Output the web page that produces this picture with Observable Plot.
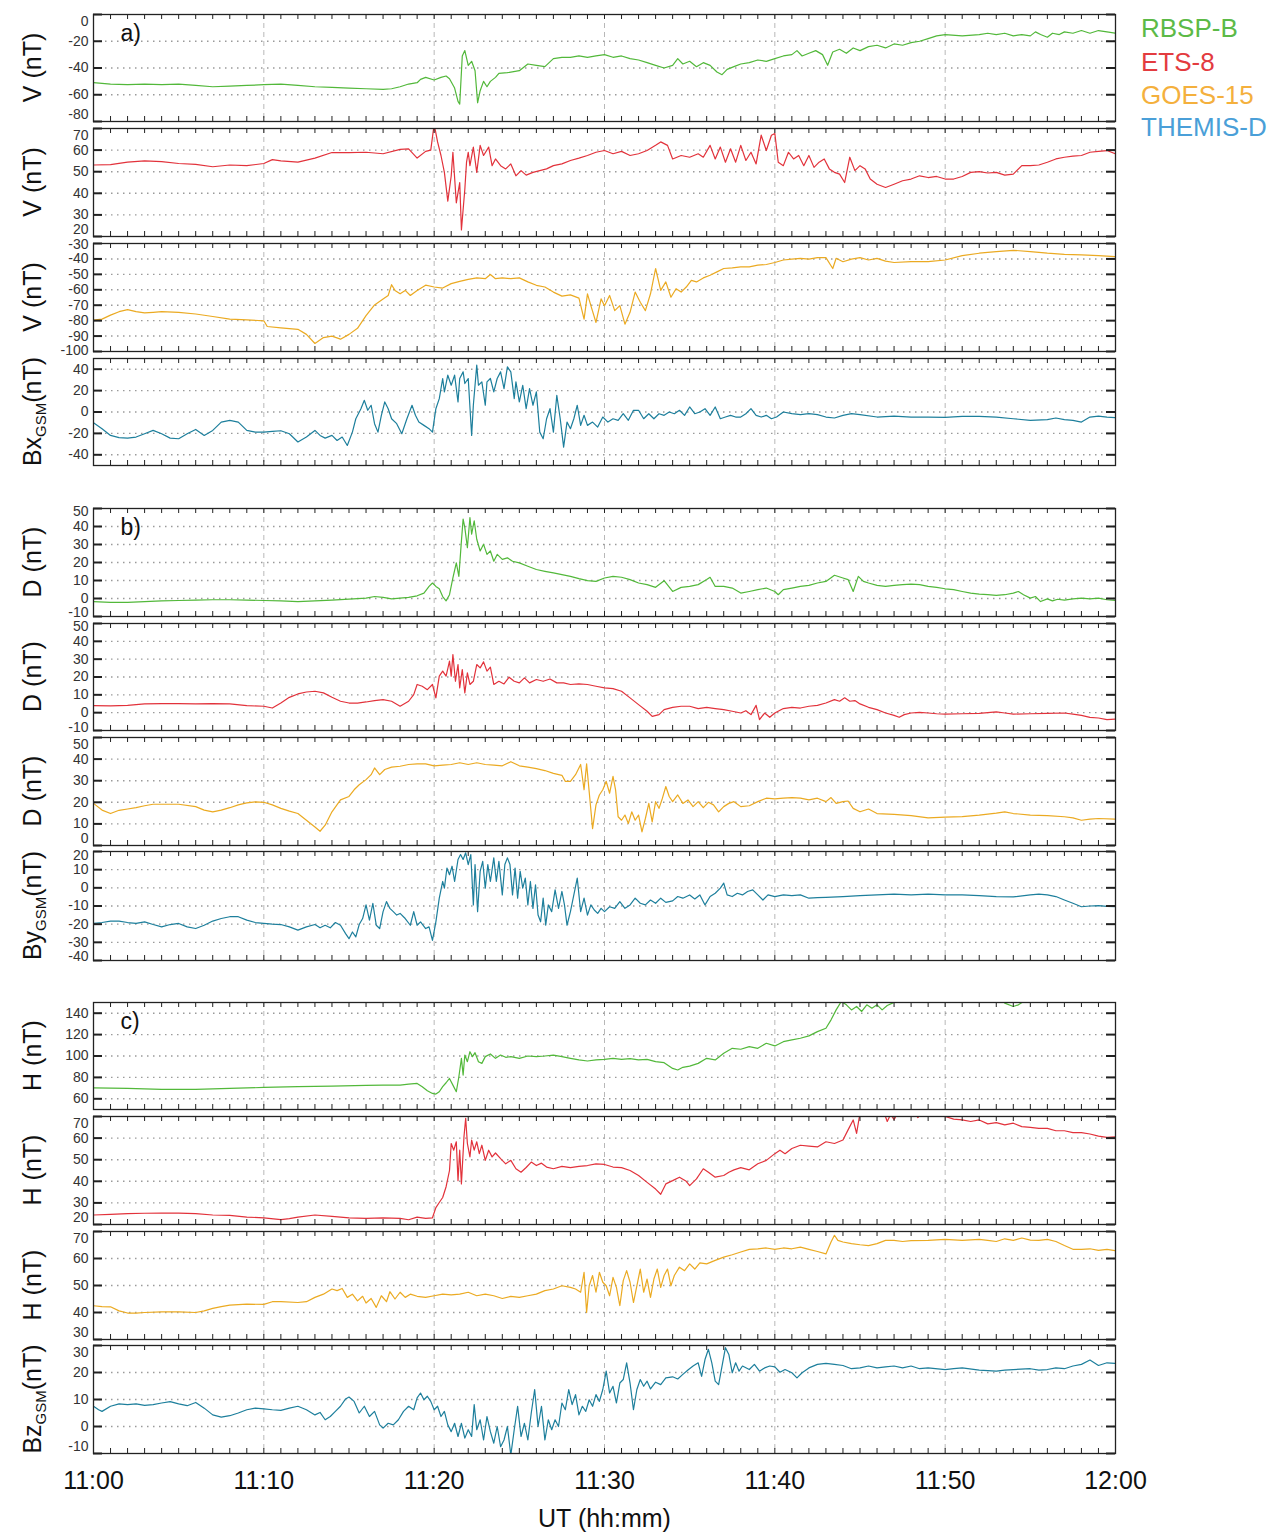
<!DOCTYPE html>
<html><head><meta charset="utf-8">
<script src="https://cdn.jsdelivr.net/npm/d3@7"></script>
<script src="https://cdn.jsdelivr.net/npm/@observablehq/plot@0.6"></script>
<style>
body{margin:0;background:#fff;}
#wrap{position:relative;width:1283px;height:1532px;font-family:"Liberation Sans",Arial,Helvetica,sans-serif;overflow:hidden;}
.legend{position:absolute;left:1141px;font-size:26px;line-height:26px;white-space:nowrap;}
</style></head><body><div id="wrap"></div>
<script>
// ---------- data: [minute after 11:00 UT, value in nT] ----------
const rbspV = [[0,-51],[1,-52],[2,-52.5],[3,-52],[4,-52.5],[5,-52],[6,-53],[7,-54],[8,-53.5],[9,-53],[10,-52.5],[11,-52],[12,-53],[13,-54],[14,-54.5],[15,-55],[16,-55.5],[17,-56],[17.5,-55.5],[18,-54],[18.5,-52],[19,-51],[19.2,-48.5],[19.5,-47],[20,-49],[20.4,-47],[20.7,-46],[20.9,-48],[21.2,-55],[21.4,-65],[21.5,-67],[21.65,-31],[21.8,-27],[22,-38],[22.2,-35],[22.4,-42],[22.55,-66],[22.7,-57],[22.9,-50],[23.1,-54],[23.3,-50],[23.6,-47],[23.8,-44],[24.3,-43.5],[25,-42],[25.5,-37],[26,-38],[26.5,-39],[27,-33],[27.5,-32],[28,-32],[28.5,-31],[29,-32],[29.5,-31],[30,-30],[30.5,-32],[31,-31],[31.5,-33],[32,-34],[32.5,-36],[33,-38],[33.5,-40],[34,-38],[34.3,-33],[34.6,-37],[35,-35],[35.4,-39],[35.8,-36],[36.2,-38],[36.6,-43],[36.9,-45],[37.2,-41],[37.6,-39],[38,-37],[38.5,-36],[39,-34],[39.5,-35],[40,-33],[40.5,-31],[41,-30],[41.3,-27],[41.6,-31],[42,-29],[42.4,-27],[42.8,-30],[43.1,-38],[43.4,-28],[43.8,-26],[44.2,-29],[44.6,-25],[45,-27],[45.5,-24],[46,-23],[46.5,-25],[47,-22],[47.5,-23],[48,-21],[48.5,-20],[49,-18],[49.5,-16],[50,-15],[51,-16],[52,-15],[52.5,-14],[53,-15],[53.5,-14],[54,-16],[54.5,-15],[55,-16],[55.3,-13],[55.6,-15],[56,-17],[56.3,-14],[56.7,-15],[57,-13],[57.5,-14],[58,-12],[58.5,-14],[59,-12],[59.5,-13],[60,-14]];
const etsV = [[0,53.1],[1,53.3],[2,54.4],[3,55],[4,54.7],[5,53.8],[6,53.4],[7,52.3],[8,53.1],[9,52.8],[10,53.8],[10.5,55.6],[11,55],[12,54.4],[13,56.3],[14,58.9],[15,58.8],[16,59],[17,58.3],[18,60.3],[18.5,60.6],[19,56.3],[19.5,59.4],[19.8,60],[20,72],[20.2,63.8],[20.4,57.5],[20.6,49.7],[20.8,36.4],[21,48],[21.1,59],[21.3,35.6],[21.5,45],[21.6,23],[21.8,41.9],[21.9,54.4],[22,59],[22.1,52.8],[22.3,61.4],[22.5,49.7],[22.7,62.2],[22.9,57.5],[23.2,61.4],[23.4,52.8],[23.6,55.9],[23.9,52.8],[24.2,51.3],[24.5,53.6],[24.8,48.1],[25.1,50.5],[25.4,48.4],[25.8,49.7],[26.2,50.5],[26.6,51.3],[27,52.8],[27.5,53.6],[28,55.2],[28.5,56.3],[29,57.5],[29.5,59],[30,59.8],[30.5,58.3],[31,59.4],[31.5,57.5],[32,58.3],[32.5,59.8],[33,62.2],[33.3,63.8],[33.7,62.2],[34,55.9],[34.5,57.5],[35,56.7],[35.5,58.3],[35.8,56.7],[36.2,62.2],[36.5,55.9],[36.8,61.4],[37.1,54.4],[37.4,60.6],[37.7,54.4],[38,62.2],[38.3,55.2],[38.6,59],[38.9,53.6],[39.2,66.9],[39.5,59.8],[39.8,66.9],[40,67.7],[40.2,54.4],[40.5,52.8],[40.8,59],[41.1,55.9],[41.4,57.5],[41.7,52.8],[42,57.5],[42.3,52],[42.6,54.4],[42.9,55.9],[43.2,51.3],[43.5,49.7],[43.8,48.9],[44.1,45],[44.4,56.7],[44.7,50.5],[45,52.8],[45.3,51.3],[45.6,46.6],[46,44.2],[46.5,42.7],[47,44.2],[47.5,45.8],[48,46.6],[48.5,48.1],[49,47.3],[49.5,47.8],[50,46.6],[50.5,46.6],[51,47.8],[51.5,49.7],[52,50],[52.5,49.4],[53,49.7],[53.5,48.4],[54,48.9],[54.5,52.8],[55,52.8],[55.5,53.1],[56,54.4],[56.5,55.9],[57,56.7],[57.5,57.2],[58,57.5],[58.5,59],[59,59.4],[59.5,59.8],[60,58.3]];
const goesV = [[0,-79.7],[0.5,-79],[1,-76.4],[1.5,-74.2],[2,-72.9],[2.5,-74.2],[3,-75],[3.5,-74.6],[4,-74.2],[5,-74.6],[6,-75.7],[7,-77.3],[8,-79],[9,-79.5],[10,-80.1],[10.2,-83.8],[11,-84.7],[12,-85.6],[12.5,-88.9],[13,-94.8],[13.5,-91],[14,-90],[14.5,-92],[15,-88.9],[15.5,-85],[16,-76.8],[16.5,-69.8],[17,-65.9],[17.3,-63.7],[17.5,-56.7],[17.7,-60.4],[18,-62.6],[18.3,-60.4],[18.6,-63.7],[19,-60.4],[19.5,-57],[20,-58.2],[20.5,-58.9],[21,-56],[21.5,-54.5],[22,-53.2],[22.5,-52.3],[23,-52.8],[23.3,-50.1],[23.6,-52.8],[24,-52.3],[24.5,-52.8],[25,-52.3],[25.5,-54.9],[26,-57.1],[26.5,-58.2],[27,-61.5],[27.5,-64.1],[28,-63.3],[28.5,-65.4],[28.8,-79],[29,-62.6],[29.2,-70.3],[29.5,-81.2],[29.8,-65.9],[30,-70.3],[30.3,-63.7],[30.6,-73.5],[30.9,-70.3],[31.2,-82.3],[31.5,-74.6],[31.8,-61.5],[32.1,-68.1],[32.4,-73.5],[32.7,-62.6],[33,-46.2],[33.3,-60.4],[33.6,-54.9],[33.9,-64.8],[34.2,-59.3],[34.5,-61.5],[34.8,-58.2],[35.1,-53.9],[35.4,-54.9],[35.8,-52.3],[36.2,-50.6],[36.6,-48.4],[37,-46.2],[37.5,-45.8],[38,-45.1],[38.5,-45.1],[39,-44],[39.5,-43.6],[40,-42.3],[40.5,-40.7],[41,-40.1],[41.5,-39.6],[42,-40.1],[42.5,-39.2],[43,-39.2],[43.4,-46.2],[43.6,-39.6],[44,-41.8],[44.5,-40.1],[45,-39.2],[45.5,-40.7],[46,-39.6],[46.5,-41.4],[47,-42.3],[48,-41.8],[49,-41.8],[50,-40.7],[51,-37.9],[52,-36.3],[53,-35.3],[54,-34.4],[55,-35.3],[56,-36.3],[57,-37],[58,-37.4],[59,-37.9],[60,-38.5]];
const themisBx = [[0,-10],[0.5,-15.6],[1,-21.9],[1.5,-24],[2,-24.4],[2.5,-23.4],[3,-20.3],[3.5,-17.2],[4,-20.3],[4.5,-24.4],[5,-25],[5.5,-20.3],[6,-16.3],[6.5,-21.9],[7,-17.2],[7.5,-9.4],[8,-7.8],[8.5,-9.4],[9,-17.2],[9.5,-18.8],[10,-18.8],[10.5,-18.1],[11,-17.5],[11.5,-20.3],[12,-28],[12.5,-23.4],[13,-17.2],[13.3,-21.9],[13.6,-24.4],[14,-21.9],[14.3,-26.6],[14.6,-23.4],[14.9,-31.3],[15.2,-18.8],[15.4,-6.3],[15.7,3.1],[15.9,10.9],[16.1,1.6],[16.3,6.3],[16.5,-10.9],[16.7,-18.8],[16.9,-3.1],[17.1,9.4],[17.3,3.1],[17.5,-6.3],[17.8,-10.9],[18.1,-20.3],[18.4,-6.3],[18.7,6.3],[18.9,-3.1],[19.1,-9.4],[19.4,-12.5],[19.7,-15.6],[19.9,-18.8],[20.1,3.1],[20.3,12.5],[20.5,31.3],[20.6,18.8],[20.8,34.4],[21,25],[21.2,34.4],[21.4,9.4],[21.5,31.3],[21.7,37.5],[21.8,26.6],[22,31.3],[22.2,-21.9],[22.3,6.3],[22.5,43.8],[22.6,25],[22.8,28.1],[23,6.3],[23.1,28.1],[23.3,31.3],[23.5,18.8],[23.7,31.3],[23.9,37.5],[24.1,21.9],[24.3,42.2],[24.5,37.5],[24.7,12.5],[24.8,28.1],[25,9.4],[25.2,25],[25.4,3.1],[25.6,21.9],[25.8,6.3],[26,18.8],[26.2,-18.8],[26.4,-25],[26.6,-6.3],[26.8,3.1],[27,-18.8],[27.2,15.6],[27.4,-6.3],[27.6,-32.8],[27.8,-9.4],[28,-15.6],[28.2,-6.3],[28.4,6.3],[28.6,-12.5],[28.8,-3.1],[29,-12.5],[29.3,-9.4],[29.6,-14.1],[29.9,-4.7],[30.2,-9.4],[30.5,-6.3],[30.8,-7.8],[31.1,-1.6],[31.4,-7.8],[31.7,1.6],[32,1.6],[32.3,-6.3],[32.6,-1.6],[32.9,-6.3],[33.2,-1.6],[33.5,-3.1],[33.8,0],[34.1,-1.6],[34.4,1.6],[34.7,-3.1],[35,4.7],[35.3,-1.6],[35.6,0],[35.9,3.1],[36.2,-3.1],[36.5,4.7],[36.8,-6.3],[37.1,-4.7],[37.4,-3.1],[37.7,-4.7],[38,-4.7],[38.3,-1.6],[38.6,3.1],[38.9,-3.1],[39.2,-4.7],[39.5,-3.1],[39.8,-6.3],[40.1,-4.7],[40.5,0],[41,-1.6],[41.5,-2.5],[42,-1.6],[42.5,-2.5],[43,-4.7],[43.5,-5.6],[44,-3.1],[44.5,-1.6],[45,-2.5],[46,-4.7],[47,-3.8],[48,-4.7],[49,-4.7],[50,-5],[51,-4.1],[52,-4.1],[53,-4.7],[54,-6.3],[55,-7.8],[56,-7.2],[56.5,-5.6],[57,-7.2],[57.5,-7.8],[58,-9.4],[58.5,-4.7],[59,-3.8],[59.5,-4.7],[60,-5.3]];
const rbspD = [[0,-1.7],[1,-2.2],[2,-2.1],[3,-1.7],[4,-1.3],[5,-1.1],[6,-0.9],[7,-0.7],[8,-0.7],[9,-0.9],[10,-1.1],[11,-1.3],[12,-1.7],[13,-1.3],[14,-0.9],[15,-0.4],[16,0.2],[16.5,1.1],[17,0.6],[17.5,-0.2],[18,0.2],[18.5,0.6],[19,1.5],[19.4,3],[19.7,6.7],[19.9,8.6],[20.1,6.7],[20.3,5.4],[20.5,1.1],[20.7,-1.3],[20.9,2.1],[21.1,11.4],[21.3,19.8],[21.45,12.3],[21.6,32],[21.7,44.1],[21.8,39.4],[21.95,28.2],[22.1,45],[22.2,35.7],[22.35,43.2],[22.5,32.9],[22.7,26.4],[22.9,30.1],[23.1,24.5],[23.3,26.4],[23.5,20.7],[23.7,24.5],[24,21.7],[24.3,22.6],[24.6,20.7],[25,19.8],[25.5,17.9],[26,16.1],[26.5,15.1],[27,14.2],[27.5,13.3],[28,12.3],[28.5,11],[29,9.9],[29.5,9.5],[30,11.4],[30.5,12.3],[31,11.8],[31.5,10.5],[32,8.6],[32.5,7.7],[33,6.2],[33.5,9.9],[34,3.9],[34.5,6.2],[35,6.7],[35.5,7.7],[36,10.5],[36.2,11.8],[36.5,6.7],[37,6.7],[37.5,5.8],[38,3],[38.5,3.9],[39,4.9],[39.5,5.8],[40,3.9],[40.2,2.1],[40.5,4.9],[41,5.8],[41.5,6.7],[42,7.3],[42.5,8.6],[43,9.5],[43.5,12.9],[44,11.4],[44.3,10.5],[44.6,3.9],[44.9,12.3],[45.2,9.5],[45.5,8.6],[46,7.3],[46.5,6.7],[47,7.3],[47.5,7.7],[48,8],[48.5,7.7],[49,6.7],[49.5,6.2],[50,5.4],[50.5,4.9],[51,3.9],[51.5,3],[52,2.4],[52.5,2.1],[53,1.7],[53.5,2.1],[54,3],[54.3,3.9],[54.6,2.1],[55,0.2],[55.3,1.1],[55.6,-1.7],[56,-0.2],[56.3,-1.3],[56.6,-0.4],[57,-0.9],[57.5,-0.2],[58,0.2],[58.5,-0.2],[59,0.2],[59.5,-0.7],[60,-1.1]];
const etsD = [[0,3.9],[1,3.8],[2,4.1],[3,4.9],[4,5.1],[5,5.1],[6,4.9],[7,5.1],[8,4.9],[9,3.9],[10,3.6],[10.5,2.6],[11,5.4],[11.5,8.6],[12,10.5],[12.5,11.6],[13,12],[13.5,11.1],[14,8.6],[14.5,6.4],[15,5.4],[15.5,5.4],[16,6],[16.5,6.8],[17,7.3],[17.5,6.4],[18,3.6],[18.5,6.4],[18.8,10.1],[19,15.8],[19.3,14.8],[19.6,12.9],[19.9,15.8],[20.1,8.3],[20.3,20.5],[20.5,23.3],[20.7,20.5],[20.9,28.9],[21,20.5],[21.1,32.6],[21.25,17.6],[21.4,27],[21.5,13.9],[21.65,24.2],[21.8,11.1],[21.95,22.3],[22.1,15.8],[22.3,17.6],[22.5,27],[22.7,25.1],[22.9,28.5],[23.1,23.3],[23.3,25.5],[23.5,15.8],[23.8,17.6],[24.1,16.1],[24.4,19.9],[24.7,17.6],[25,16.7],[25.3,19.5],[25.6,16.7],[26,18.6],[26.4,17.6],[26.8,18.9],[27.2,16.7],[27.6,16.7],[28,15.8],[28.5,16.1],[29,15.8],[29.5,14.8],[30,13.9],[30.5,13.5],[31,12],[31.5,8.3],[32,4.5],[32.5,0.8],[32.8,-2.1],[33.2,-1.1],[33.5,1.7],[34,3],[34.5,3.6],[35,3.6],[35.5,2.3],[36,3],[36.5,2.3],[37,1.7],[37.5,0.8],[38,-0.2],[38.3,1.1],[38.6,-1.1],[38.9,4.1],[39.1,-3.9],[39.4,-0.2],[39.7,-2.6],[40,-0.2],[40.5,2.3],[41,3],[41.5,2.6],[42,3.6],[42.5,4.1],[43,5.4],[43.5,7.3],[43.8,6.4],[44.1,8.3],[44.4,6.4],[44.7,6.8],[45,4.9],[45.5,3],[46,1.7],[46.5,-0.2],[47,-1.5],[47.3,-2.6],[47.6,-1.1],[48,-0.2],[48.5,0.2],[49,-0.2],[49.5,-0.6],[50,-0.8],[51,-0.6],[52,-0.4],[52.5,0],[53,0.4],[53.5,-0.2],[54,-0.8],[55,-0.6],[56,-0.4],[57,-0.2],[57.5,-0.8],[58,-1.5],[58.5,-2.6],[59,-3],[59.5,-3.9],[60,-3.6]];
const goesD = [[0,19.5],[0.5,16.4],[1,14.8],[1.5,16.3],[2,16.9],[2.5,17.5],[3,18.4],[3.5,19.1],[4,19.1],[5,19.1],[6,18],[6.5,16.4],[7,15.6],[7.5,16.4],[8,17.5],[8.5,18.8],[9,19.7],[9.5,20.2],[10,20],[10.5,18.8],[11,17.2],[11.5,15.9],[12,14.8],[12.5,11.7],[13,8.6],[13.3,6.6],[13.6,9.4],[14,15.6],[14.5,21.1],[15,22.7],[15.3,25.8],[15.6,28.1],[16,30.5],[16.3,32.8],[16.5,35.9],[16.8,32.8],[17.1,35.2],[17.5,36.3],[18,36.7],[18.5,37.5],[19,37.8],[19.5,37.8],[20,36.9],[20.5,37.2],[21,37.5],[21.5,38.3],[22,37.5],[22.5,38.3],[23,37.5],[23.5,37.2],[24,36.9],[24.5,38.8],[25,36.9],[25.5,36.3],[26,35.6],[26.5,34.7],[27,33.4],[27.5,32.5],[27.7,29.7],[28,29.7],[28.3,32.8],[28.6,37.5],[28.8,25.8],[28.95,37.8],[29.1,25],[29.3,7.8],[29.5,18.8],[29.7,23.4],[29.9,25.8],[30.1,29.7],[30.3,24.2],[30.5,32],[30.65,25.8],[30.8,13.3],[31,11.7],[31.2,14.1],[31.4,10.2],[31.6,15.6],[31.8,11.7],[32,14.1],[32.2,6.3],[32.4,12.5],[32.6,19.5],[32.8,10.9],[33,20.3],[33.2,17.2],[33.4,21.9],[33.6,27.3],[33.8,22.7],[34,20.3],[34.3,23.4],[34.6,19.5],[34.9,21.1],[35.2,18],[35.5,20.3],[35.8,17.5],[36.1,20],[36.4,18.8],[36.7,15.6],[37,18],[37.3,19.5],[37.6,20.3],[38,18],[38.5,18.4],[39,20.3],[39.5,21.9],[40,21.6],[40.5,21.9],[41,22.2],[41.5,21.9],[42,21.1],[42.5,21.9],[43,20.3],[43.3,22.2],[43.6,19.5],[44,20.3],[44.3,20.6],[44.6,17.2],[45,15.6],[45.5,16.9],[46,14.8],[47,14.4],[48,13.8],[49,12.8],[50,13.1],[51,13.4],[52,14.1],[53,15],[53.5,15.6],[54,14.8],[55,14.1],[56,13.8],[57,13.3],[57.5,12.8],[58,11.7],[58.5,12.2],[59,12.5],[60,12.2]];
const themisBy = [[0,-19.6],[0.5,-19.1],[1,-18.3],[1.5,-18.3],[2,-19.1],[2.5,-19.6],[3,-18.7],[3.5,-20.2],[4,-21.5],[4.5,-20.2],[5,-19.6],[5.5,-21.5],[6,-22.4],[6.5,-20.6],[7,-18.3],[7.5,-16.9],[8,-15.9],[8.5,-15.9],[9,-17.8],[9.5,-19.1],[10,-19.6],[10.5,-20],[11,-20.2],[11.5,-21.5],[12,-23.3],[12.5,-21.5],[13,-20.2],[13.3,-22],[13.6,-20.6],[13.9,-22],[14.2,-19.1],[14.5,-20.6],[14.8,-25.2],[15,-28],[15.2,-24.3],[15.4,-27],[15.6,-20.2],[15.8,-16.9],[16,-9.4],[16.2,-17.8],[16.4,-8.5],[16.6,-20.6],[16.8,-22.4],[17,-13.1],[17.2,-7.6],[17.4,-11.3],[17.6,-13.1],[17.8,-15],[18,-14.1],[18.3,-16.9],[18.6,-20.6],[18.8,-13.1],[19,-20.6],[19.2,-18.7],[19.5,-22.4],[19.7,-21.5],[19.9,-28.9],[20.1,-18.7],[20.3,-5.7],[20.5,3.5],[20.6,-0.2],[20.75,10.9],[20.9,7.2],[21.05,11.9],[21.2,3.5],[21.4,15.6],[21.55,18.3],[21.7,15.6],[21.85,19.3],[22,12.8],[22.15,18.3],[22.3,-9.4],[22.4,12.8],[22.55,-13.1],[22.7,9.1],[22.85,14.6],[23,-0.2],[23.15,12.8],[23.3,3.5],[23.5,16.5],[23.65,3.5],[23.8,14.6],[24,-3.9],[24.15,12.8],[24.3,16.5],[24.45,12.8],[24.6,-3.9],[24.75,10.9],[24.9,-5.7],[25.05,9.1],[25.2,-0.2],[25.35,5.4],[25.5,-9.4],[25.65,3.5],[25.8,-11.3],[25.95,1.7],[26.1,-15],[26.25,-18.7],[26.4,-5.7],[26.55,-20.6],[26.7,-9.4],[26.9,-13.1],[27.1,-1.1],[27.3,-11.3],[27.5,-2],[27.65,-9.4],[27.8,-20.6],[28,-13.1],[28.2,-3.9],[28.4,5.4],[28.6,-13.1],[28.8,-5.7],[29,-15],[29.2,-9.4],[29.4,-12.2],[29.6,-14.1],[29.8,-11.3],[30,-13.1],[30.3,-10.4],[30.6,-11.3],[30.9,-7.6],[31.2,-11.3],[31.5,-9.4],[31.8,-5.7],[32.1,-8.5],[32.4,-9.4],[32.7,-6.7],[33,-8.5],[33.3,-5.7],[33.6,-8],[34,-7.2],[34.3,-4.8],[34.6,-5.7],[35,-3.9],[35.3,-6.1],[35.6,-3.9],[35.9,-9.4],[36.2,-4.8],[36.5,-3],[36.8,-0.2],[37,2.6],[37.2,-3.9],[37.5,-4.8],[37.8,-3],[38.1,-3.9],[38.4,-2],[38.7,-1.1],[39,-3.9],[39.3,-6.7],[39.6,-3.9],[40,-4.8],[40.5,-3.9],[41,-4.3],[41.5,-3.9],[42,-5.7],[42.5,-5.4],[43,-5.2],[44,-4.8],[45,-4.3],[46,-3.9],[47,-3.5],[48,-3.9],[49,-3.5],[50,-3.9],[51,-3.9],[52,-4.3],[53,-4.8],[54,-5],[55,-3.9],[55.5,-3.5],[56,-3.9],[56.5,-4.8],[57,-6.7],[57.5,-8.5],[58,-10.4],[58.5,-10],[59,-9.8],[59.5,-10.2],[60,-10.4]];
const rbspH = [[0,70.3],[2,69.7],[4,68.8],[6,68.8],[8,69.7],[10,70.6],[12,71.3],[14,71.9],[16,72.5],[17,72.8],[18,72.8],[18.5,73.8],[19,74.4],[19.3,71.3],[19.6,67.5],[19.9,65],[20.1,64.4],[20.3,66.6],[20.5,71.3],[20.7,75],[20.9,79],[21.1,72.8],[21.3,66.6],[21.45,80.6],[21.6,97.8],[21.7,82.2],[21.8,100.9],[21.95,94.7],[22.1,104],[22.25,99.4],[22.4,103.1],[22.6,94.7],[22.8,93.1],[23,99.4],[23.3,101.9],[23.6,97.8],[23.9,100.9],[24.2,98.8],[24.5,99.4],[25,97.8],[25.5,100],[26,99.4],[26.5,100],[27,100.9],[27.5,99.4],[28,97.8],[28.5,96.3],[29,95.3],[29.5,96.3],[30,96.9],[30.5,97.8],[31,96.9],[31.5,97.5],[32,96.3],[32.5,96.9],[33,94.7],[33.5,93.8],[34,88.4],[34.3,86.9],[34.6,89.4],[35,90.6],[35.5,93.1],[36,97.8],[36.5,96.3],[37,102.5],[37.5,107.2],[38,106.3],[38.5,108.8],[39,107.2],[39.5,111.9],[40,109.4],[40.5,113.4],[41,115],[41.5,116.6],[42,118.8],[42.5,122.8],[43,125.9],[43.3,133.8],[43.6,143.1],[43.9,150.9],[44.2,147.8],[44.5,143.1],[44.8,146.3],[45.1,141.6],[45.4,147.8],[45.7,144.7],[46,147.8],[46.3,143.1],[46.6,147.2],[46.9,149.4],[47.2,152],[47.6,155],[48,156],[49,158],[50,160],[51,158],[52,157],[53,156],[53.5,149.4],[54,146.3],[54.3,147.8],[54.6,150.9],[55,156],[56,158],[57,160],[58,158],[59,157],[60,158]];
const etsH = [[0,24.4],[1,24.7],[2,25],[3,25.2],[4,25.3],[5,25.3],[6,25],[7,24.4],[8,24.2],[9,23.4],[10,23.1],[11,22.3],[11.5,22.7],[12,23.4],[13,24.4],[14,23.8],[15,23.1],[16,22.8],[17,23.1],[18,22.8],[18.5,22.2],[19,23.4],[19.5,22.8],[19.9,23.1],[20.1,27.8],[20.3,30.2],[20.5,32.5],[20.7,37.5],[20.9,45],[21,57.5],[21.15,54.4],[21.3,58.3],[21.4,40.3],[21.5,54.4],[21.6,38.8],[21.75,60.6],[21.85,69.2],[21.95,57.5],[22.1,51.3],[22.2,59.1],[22.35,54.4],[22.5,58.3],[22.65,52.8],[22.8,56.7],[23,49.7],[23.2,54.4],[23.4,51.3],[23.6,53.1],[23.9,50.5],[24.2,48.1],[24.5,49.7],[24.8,45.8],[25.1,44.2],[25.4,46.4],[25.7,48.9],[26,47.3],[26.3,48.4],[26.6,46.6],[27,45.8],[27.5,46.9],[28,46.3],[28.5,46.9],[29,47.3],[29.5,48.1],[30,47.8],[30.5,46.6],[31,46.3],[31.5,45],[32,42.7],[32.5,39.5],[33,36.4],[33.3,34],[33.6,38.8],[34,40.3],[34.4,41.9],[34.8,40],[35,38],[35.4,41.1],[35.8,45.8],[36.1,44.2],[36.5,41.9],[37,42.7],[37.3,44.2],[37.6,45.3],[38,46.3],[38.5,45.3],[39,48.1],[39.5,49.7],[40,52.8],[40.3,54.4],[40.6,52.8],[41,55.2],[41.5,56.7],[42,56.3],[42.5,55.9],[43,58.3],[43.5,57.5],[44,59.1],[44.3,63.8],[44.6,68.4],[44.8,62.2],[45,71.6],[45.5,73],[46,74],[46.4,72],[46.6,67.7],[46.8,71],[47,68.5],[47.3,73],[48,74],[48.4,69.5],[48.7,73],[49,74],[49.5,72],[50,70],[50.5,68.8],[51,68.4],[51.5,67.7],[52,68.4],[52.5,66.6],[53,67.2],[53.5,66.1],[54,66.9],[54.5,65.3],[55,65],[55.5,64.5],[56,64.5],[56.5,63.4],[57,63.4],[57.5,62.5],[58,62.5],[58.5,61.9],[59,60.9],[59.5,60.3],[60,60.6]];
const goesH = [[0,42.5],[0.5,42.2],[1,42.1],[1.5,40.6],[2,39.8],[2.5,39.8],[3,40],[4,40.2],[5,40.2],[6,40],[6.5,40.6],[7,41.5],[7.5,42.2],[8,42.7],[9,43.1],[10,43],[10.5,44],[11,44],[12,43.7],[12.5,44],[13,45.6],[13.5,46.8],[14,48.7],[14.3,48.1],[14.6,48.9],[14.9,45.6],[15.2,46.8],[15.5,44.3],[15.8,46],[16,43.5],[16.3,45.2],[16.6,41.9],[16.9,46.2],[17.2,44],[17.4,47.7],[17.7,45],[18,47.5],[18.3,45.6],[18.6,46.8],[19,46],[19.5,45.6],[20,46.2],[20.5,46.8],[21,46.5],[21.5,46.8],[22,47.5],[22.5,46.2],[23,46.8],[23.5,46.2],[24,45.2],[24.5,46],[25,45.6],[25.5,46.2],[26,46.8],[26.5,48.1],[27,48.7],[27.5,49.9],[28,49.3],[28.3,48.7],[28.6,47.5],[28.8,54.9],[28.95,40],[29.1,49.9],[29.3,53.7],[29.5,47.5],[29.7,54.9],[29.9,51.2],[30.1,49.9],[30.3,46.2],[30.5,53],[30.7,49.3],[30.9,42.5],[31.1,51.8],[31.3,55.5],[31.5,51.2],[31.7,43.7],[31.9,49.9],[32.1,56.1],[32.3,47.5],[32.5,52.4],[32.7,45.6],[32.9,52.4],[33.1,56.1],[33.3,49.3],[33.5,53.7],[33.7,56.1],[33.9,49.9],[34.1,53.7],[34.4,56.8],[34.7,55.5],[35,58],[35.3,56.1],[35.6,58.4],[36,58],[36.5,59.3],[37,60.5],[37.5,61.4],[38,62.4],[38.5,63.4],[39,63.6],[39.5,63.9],[40,63.4],[40.5,63.9],[41,63.6],[41.5,64.2],[42,63.4],[42.5,62.6],[43,61.7],[43.3,66.1],[43.5,68.6],[43.7,66.7],[44,66.1],[44.5,65.5],[45,65.1],[45.5,64.8],[46,65.5],[46.5,66.7],[47,66.7],[47.5,66.3],[48,66.6],[49,66.7],[50,67.1],[51,66.7],[52,67.1],[52.5,66.7],[53,66.3],[53.5,67.3],[54,66.7],[54.5,67.6],[55,66.8],[55.5,66.7],[56,67.1],[56.5,66.3],[57,64.8],[57.5,63.4],[58,63.4],[58.5,63.6],[59,63],[59.5,63.4],[60,62.9]];
const themisBz = [[0,7.5],[0.3,6.2],[0.5,5.6],[1,7.5],[1.5,8.4],[2,8.1],[2.5,8.4],[3,7.8],[3.5,8.1],[4,8.7],[4.5,9.2],[5,8.4],[5.5,7.7],[6,8.9],[6.5,6.8],[7,4.3],[7.5,3.5],[8,4],[8.5,5],[9,6.2],[9.5,6.8],[10,6.5],[10.5,6.2],[11,6],[11.5,6.8],[12,7.5],[12.5,6.2],[13,4.3],[13.3,5.2],[13.6,2.5],[13.9,3.7],[14.2,5.6],[14.5,7.5],[14.8,10.2],[15,10.9],[15.3,9.3],[15.6,5],[15.9,7.5],[16.2,3.7],[16.5,5.6],[16.8,0.6],[17,-0.6],[17.3,1.2],[17.6,0.6],[17.9,2.5],[18.2,5.6],[18.5,7.5],[18.8,6.2],[19,10.6],[19.2,12.4],[19.4,9.9],[19.6,11.2],[19.8,9.3],[20,6.2],[20.2,7.5],[20.4,3.7],[20.6,5.6],[20.8,0.6],[21,-1.9],[21.2,1.2],[21.4,-3.7],[21.6,1.2],[21.8,-4.3],[22,-1.2],[22.2,-3.7],[22.35,8.1],[22.5,-1.2],[22.7,2.5],[22.9,-5],[23.1,3.7],[23.3,-1.9],[23.5,-6.2],[23.7,0],[23.9,-7.5],[24.1,-5],[24.3,0],[24.5,-10.6],[24.7,-1.2],[24.9,7.5],[25.1,-3.7],[25.3,1.2],[25.5,-5],[25.7,5],[25.9,13.7],[26.1,0],[26.3,7.5],[26.5,-5],[26.7,2.5],[26.9,-1.2],[27.1,2.5],[27.3,0],[27.5,8.7],[27.7,6.2],[27.9,13.7],[28.1,8.1],[28.3,11.8],[28.5,4.3],[28.7,7.5],[28.9,5.6],[29.1,9.9],[29.3,7.5],[29.5,11.8],[29.7,9.3],[29.9,13.7],[30.1,20.5],[30.3,12.4],[30.5,14.9],[30.7,8.7],[30.9,16.1],[31.1,17.4],[31.3,23.6],[31.5,16.1],[31.7,6.2],[31.9,13.7],[32.1,17.4],[32.3,14.9],[32.5,16.8],[32.7,13.9],[33,16.4],[33.3,15.5],[33.6,18],[34,18.4],[34.3,17.6],[34.6,19.3],[34.9,20.9],[35.2,22.4],[35.5,23.6],[35.7,18.6],[35.9,24.8],[36.1,28.6],[36.3,23.6],[36.5,16.8],[36.7,15.5],[36.9,22.4],[37.1,29.2],[37.3,26.7],[37.5,19.9],[37.7,23.6],[37.9,20.5],[38.1,22.4],[38.5,21.1],[38.8,23],[39.1,20.5],[39.4,21.7],[39.7,22.4],[40,22.1],[40.3,20.1],[40.6,21.1],[41,19.9],[41.3,18],[41.6,19.9],[42,21.7],[42.5,23],[43,23.4],[43.5,23],[44,22.6],[44.5,21.4],[45,21.7],[45.5,22.4],[46,21.7],[46.5,22.1],[47,22.4],[47.5,21.7],[48,22.4],[48.5,21.4],[49,21.7],[50,21.1],[50.5,21.4],[51,21.7],[52,20.9],[53,20.5],[53.5,20.9],[54,21.1],[55,21.4],[55.5,20.9],[56,21.1],[56.5,21.7],[57,21.4],[57.5,22.4],[58,23],[58.5,24.6],[59,22.6],[59.5,23.6],[60,23.4]];

const xTickValues = [0, 10, 20, 30, 40, 50, 60];
const xTickLabels = ["11:00", "11:10", "11:20", "11:30", "11:40", "11:50", "12:00"];
const legendNames = ["RBSP-B", "ETS-8", "GOES-15", "THEMIS-D"];

// ---------- styling / layout ----------
const C = {green: "#52b83a", red: "#e2323b", orange: "#ebaa22", teal: "#1d7f9c"};
const legendColors = ["#5cba47", "#e33b3f", "#f4b03d", "#4a9fd8"];
const FONT = '"Liberation Sans", Arial, Helvetica, sans-serif';
const TICKFONT = 14;
const W = 1283, ML = 93, MR = 168;
const frameW = W - ML - MR;
const panelTops = [14, 128, 243, 358, 508, 623, 737, 851, 1002, 1116, 1231, 1345];
const panelBots = [121, 236, 351, 465, 616, 730, 845, 960, 1109, 1224, 1339, 1453];

const panels = [
  {data: rbspV, color: C.green, domain: [-80, 0], ticks: [0, -20, -40, -60, -80], label: ["V (nT)"], letter: "a)"},
  {data: etsV, color: C.red, domain: [20, 70], ticks: [70, 60, 50, 40, 30, 20], label: ["V (nT)"]},
  {data: goesV, color: C.orange, domain: [-100, -30], ticks: [-30, -40, -50, -60, -70, -80, -90, -100], label: ["V (nT)"]},
  {data: themisBx, color: C.teal, domain: [-50, 50], ticks: [40, 20, 0, -20, -40], label: ["Bx", "GSM", "(nT)"]},
  {data: rbspD, color: C.green, domain: [-10, 50], ticks: [50, 40, 30, 20, 10, 0, -10], label: ["D (nT)"], letter: "b)"},
  {data: etsD, color: C.red, domain: [-10, 50], ticks: [50, 40, 30, 20, 10, 0, -10], label: ["D (nT)"]},
  {data: goesD, color: C.orange, domain: [0, 50], ticks: [50, 40, 30, 20, 10, 0], label: ["D (nT)"]},
  {data: themisBy, color: C.teal, domain: [-40, 20], ticks: [20, 10, 0, -10, -20, -30, -40], label: ["By", "GSM", "(nT)"]},
  {data: rbspH, color: C.green, domain: [50, 150], ticks: [140, 120, 100, 80, 60], label: ["H (nT)"], letter: "c)"},
  {data: etsH, color: C.red, domain: [20, 70], ticks: [70, 60, 50, 40, 30, 20], label: ["H (nT)"]},
  {data: goesH, color: C.orange, domain: [30, 70], ticks: [70, 60, 50, 40, 30], label: ["H (nT)"]},
  {data: themisBz, color: C.teal, domain: [-10, 30], ticks: [30, 20, 10, 0, -10], label: ["Bz", "GSM", "(nT)"]}
];

const minuteTicks = d3.range(0, 61, 1);
const gridMinutes = [10, 20, 30, 40, 50];
const wrap = document.getElementById("wrap");

panels.forEach((p, i) => {
  const H = panelBots[i] - panelTops[i];
  const mt = 4, mb = i === panels.length - 1 ? 78 : 4;
  const [lo, hi] = p.domain;
  const inner = p.ticks.filter(v => v > lo && v < hi);
  const topT = p.ticks.filter(v => v === hi);
  const botT = p.ticks.filter(v => v === lo);
  // edge labels are nudged inward (as in the original), but only as far as the tick spacing allows
  const step = Math.abs(p.ticks[0] - p.ticks[1]) * H / (hi - lo);
  const shift = Math.max(0.5, Math.min(7, step - TICKFONT - 0.5));
  const lab = {frameAnchor: "left", dx: -5, textAnchor: "end", fontSize: TICKFONT, fill: "#333", text: d => String(d)};
  const marks = [
    Plot.ruleX(gridMinutes, {x: d => d, stroke: "#b8b8b8", strokeWidth: 1, strokeDasharray: "5,4"}),
    Plot.ruleY(inner, {y: d => d, stroke: "#9a9a9a", strokeWidth: 1.4, strokeDasharray: "1.5,4.5"}),
    Plot.line(p.data, {x: d => d[0], y: d => d[1], stroke: p.color, strokeWidth: 1.2, clip: true}),
    Plot.tickX(minuteTicks, {x: d => d, insetBottom: H - 5, stroke: "#222", strokeWidth: 1}),
    Plot.tickX(minuteTicks, {x: d => d, insetTop: H - 5, stroke: "#222", strokeWidth: 1}),
    Plot.tickY(p.ticks, {y: d => d, insetRight: frameW - 9, stroke: "#222", strokeWidth: 2}),
    Plot.tickY(p.ticks, {y: d => d, insetLeft: frameW - 9, stroke: "#222", strokeWidth: 2}),
    Plot.frame({stroke: "#222", strokeWidth: 1.3}),
    Plot.text(inner, {y: d => d, ...lab}),
    Plot.text(topT, {y: d => d, ...lab, dy: shift}),
    Plot.text(botT, {y: d => d, ...lab, dy: -shift})
  ];
  if (p.letter) {
    marks.push(Plot.text([p.letter], {frameAnchor: "top-left", dx: 27, dy: 10, lineAnchor: "top", textAnchor: "start", fontSize: 23, fill: "#111"}));
  }
  if (i === panels.length - 1) {
    marks.push(Plot.text(xTickValues, {x: d => d, frameAnchor: "bottom", dy: 27, lineAnchor: "middle", fontSize: 25, fill: "#111", text: (d, j) => xTickLabels[j]}));
    marks.push(Plot.text(["UT (hh:mm)"], {frameAnchor: "bottom", dy: 65, lineAnchor: "middle", fontSize: 25, fill: "#111"}));
  }
  const svg = Plot.plot({
    width: W, height: mt + H + mb,
    marginLeft: ML, marginRight: MR, marginTop: mt, marginBottom: mb,
    x: {domain: [0, 60], axis: null},
    y: {domain: p.domain, axis: null},
    style: {position: "absolute", left: "0px", top: (panelTops[i] - mt) + "px", overflow: "visible", background: "transparent", fontFamily: FONT},
    marks
  });
  // rotated y-axis title (with subscript where needed)
  const t = d3.select(svg).append("text")
    .attr("transform", `translate(41,${mt + H / 2}) rotate(-90)`)
    .attr("text-anchor", "middle").attr("font-size", 25).attr("fill", "#111")
    .attr("font-family", FONT);
  if (p.label.length === 1) {
    t.text(p.label[0]);
  } else {
    t.append("tspan").text(p.label[0]);
    t.append("tspan").attr("font-size", 15).attr("dy", 5).text(p.label[1]);
    t.append("tspan").attr("dy", -5).text(p.label[2]);
  }
  wrap.appendChild(svg);
});

// legend
const legendTops = [15, 49, 82, 114];
legendNames.forEach((name, i) => {
  const d = document.createElement("div");
  d.className = "legend";
  d.style.top = legendTops[i] + "px";
  d.style.color = legendColors[i];
  d.textContent = name;
  wrap.appendChild(d);
});
</script>
</body></html>
